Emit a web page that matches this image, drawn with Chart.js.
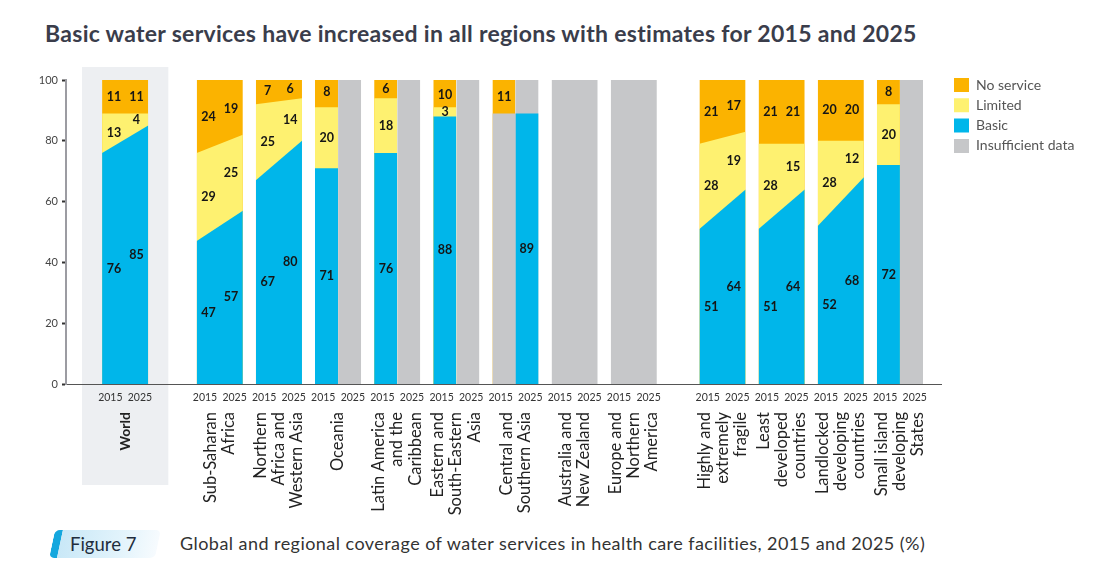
<!DOCTYPE html>
<html>
<head>
<meta charset="utf-8">
<script src="https://cdn.jsdelivr.net/npm/chart.js@4.4.1/dist/chart.umd.min.js"></script>
<style>
  body { margin: 0; background: #fff; font-family: Lato, 'Open Sans', sans-serif; }
  #page { position: relative; width: 1100px; height: 576px; overflow: hidden; }
  h1 { position: absolute; left: 45px; top: 20px; margin: 0; font-size: 23px; letter-spacing: 0.3px; font-weight: 700; color: #3a3d4b; white-space: nowrap; line-height: 1.2; }
  #chartBox { position: absolute; left: 0; top: 50px; width: 1100px; height: 470px; }
  .fig { position: absolute; left: 52px; top: 530px; width: 98px; height: 28px; transform: skewX(-12deg);
         background: linear-gradient(90deg, #c9e8f7, #e6f5fc 70%, #f7fbfe); border-left: 8px solid #14a7de; border-radius: 5px; }
  .fig span { display: block; transform: skewX(12deg); font-size: 18.5px; color: #1f2d3d; padding-left: 10px; line-height: 28px; }
  .caption { position: absolute; left: 180px; top: 532px; font-size: 18px; letter-spacing: 0.45px; color: #333; white-space: nowrap; }
</style>
</head>
<body>
<div id="page">
  <h1>Basic water services have increased in all regions with estimates for 2015 and 2025</h1>
  <div id="chartBox"><canvas id="waterChart"></canvas></div>
  <div class="fig"><span>Figure 7</span></div>
  <div class="caption">Global and regional coverage of water services in health care facilities, 2015 and 2025 (%)</div>
</div>
<script>
// Categories (multi-line labels) and the two survey years
const categories = [
    'World',
    ['Sub-Saharan', 'Africa'],
    ['Northern', 'Africa and', 'Western Asia'],
    'Oceania',
    ['Latin America', 'and the', 'Caribbean'],
    ['Eastern and', 'South-Eastern', 'Asia'],
    ['Central and', 'Southern Asia'],
    ['Australia and', 'New Zealand'],
    ['Europe and', 'Northern', 'America'],
    ['Highly and', 'extremely', 'fragile'],
    ['Least', 'developed', 'countries'],
    ['Landlocked', 'developing', 'countries'],
    ['Small island', 'developing', 'States']
];
const years = ['2015', '2025'];
const yTicks = [0, 20, 40, 60, 80, 100];

// Coverage values (%), null = insufficient data
const basic2015   = [76, 47, 67, 71, 76, 88, null, null, null, 51, 51, 52, 72];
const basic2025   = [85, 57, 80, null, null, null, 89, null, null, 64, 64, 68, null];
const limited2015 = [13, 29, 25, 20, 18, 3, null, null, null, 28, 28, 28, 20];
const limited2025 = [4, 25, 14, null, null, null, null, null, null, 19, 15, 12, null];
const none2015    = [11, 24, 7, 8, 6, 10, 11, null, null, 21, 21, 20, 8];
const none2025    = [11, 19, 6, null, null, null, null, null, null, 17, 21, 20, null];

const colors = { none: '#fbb300', limited: '#fef170', basic: '#00b6ea', gray: '#c6c7c9' };

// group centre on the linear x axis (extra gap after World and before the country groupings)
function groupX(i) {
    return i + (i >= 1 ? 0.6 : 0) + (i >= 9 ? 0.5 : 0);
}
const HALF = 0.39;
const LABEL_LINE = 0.31;   // one line of a rotated category label, in x units

// top of each layer
const sum = (a, b) => a.map((v, i) => (v == null || b[i] == null) ? null : v + b[i]);
const toFull = a => a.map(v => (v == null ? null : 100));
const grayTop = (b, l, n) => b.map((v, i) =>
    (v != null && l[i] != null && n[i] != null) ? null : 100 - (n[i] || 0));

// polygon outline per group: sloped when both years are known, flat half-columns otherwise
function band(v15, v25, sloped) {
    const pts = [];
    categories.forEach((_, i) => {
        const c = groupX(i), a = v15[i], b = v25[i];
        if (a != null && b != null && sloped) {
            pts.push({ x: c - HALF, y: a }, { x: c + HALF, y: b });
        } else {
            if (a != null) pts.push({ x: c - HALF, y: a }, { x: c, y: a });
            if (b != null) pts.push({ x: c, y: b }, { x: c + HALF, y: b });
        }
        pts.push({ x: c + HALF, y: null });
    });
    return pts;
}

function layer(label, color, points, order) {
    return {
        label: label,
        data: points,
        backgroundColor: color,
        borderColor: 'rgba(0,0,0,0)',
        borderWidth: 0,
        pointRadius: 0,
        tension: 0,
        fill: 'origin',
        spanGaps: false,
        order: order
    };
}

// light panel behind the World column
const worldPanel = {
    id: 'worldPanel',
    beforeDraw(chart) {
        const { ctx, chartArea, scales: { x } } = chart;
        const left = x.getPixelForValue(groupX(0) - 0.73);
        const right = x.getPixelForValue(groupX(0) + 0.73);
        ctx.save();
        ctx.fillStyle = '#edeff2';
        ctx.fillRect(left, chartArea.top - 13, right - left, 435 - chartArea.top + 13);
        ctx.restore();
    }
};

// numbers printed inside each segment
const valueLabels = {
    id: 'valueLabels',
    afterDatasetsDraw(chart) {
        const { ctx, scales: { x, y } } = chart;
        ctx.save();
        ctx.font = 'bold 12.5px Lato, sans-serif';
        ctx.fillStyle = '#151515';
        ctx.textAlign = 'center';
        ctx.textBaseline = 'middle';
        const sets = [[basic2015, limited2015, none2015, -1], [basic2025, limited2025, none2025, 1]];
        categories.forEach((_, i) => {
            sets.forEach(([b, l, n, side]) => {
                const px = x.getPixelForValue(groupX(i) + side * 0.19);
                const put = (lo, hi, v) => ctx.fillText(v, px, y.getPixelForValue((lo + hi) / 2));
                if (b[i] != null) put(0, b[i], b[i]);
                if (b[i] != null && l[i] != null) put(b[i], b[i] + l[i], l[i]);
                if (n[i] != null) put(100 - n[i], 100, n[i]);
            });
        });
        ctx.restore();
    }
};

// place the legend block where the report has it
const legendPlace = {
    id: 'legendPlace',
    afterLayout(chart) {
        const lg = chart.legend;
        const pad = lg.options.labels.padding;
        lg.left = 954 - pad;
        lg.right = 1100;
        lg.top = 28 - pad;
        lg.bottom = lg.top + 110;
    }
};

const ctx = document.getElementById('waterChart').getContext('2d');

const yearTicks = [];
categories.forEach((_, i) => { yearTicks.push(groupX(i) - 0.25, groupX(i) + 0.25); });

// rotated multi-line labels start at the tick, so shift them to sit centred on the group
const catTicks = categories.map((label, i) => {
    const lines = Array.isArray(label) ? label.length : 1;
    return groupX(i) - (lines - 1) * LABEL_LINE / 2;
});

const config = {
    type: 'line',
    data: {
        datasets: [
            layer('No service', colors.none, band(toFull(none2015), toFull(none2025), true), 4),
            layer('Limited', colors.limited, band(sum(basic2015, limited2015), sum(basic2025, limited2025), true), 2),
            layer('Basic', colors.basic, band(basic2015, basic2025, true), 1),
            layer('Insufficient data', colors.gray,
                band(grayTop(basic2015, limited2015, none2015), grayTop(basic2025, limited2025, none2025), false), 3)
        ]
    },
    options: {
        responsive: true,
        maintainAspectRatio: false,
        animation: false,
        events: [],
        layout: { padding: { top: 30, right: 22, left: 0, bottom: 0 } },
        scales: {
            x: {
                type: 'linear',
                min: -1,
                max: 13.8,
                position: 'bottom',
                border: { display: true, color: '#555', width: 1 },
                grid: { display: false, drawTicks: false },
                afterBuildTicks: s => { s.ticks = yearTicks.map(v => ({ value: v })); },
                afterFit: s => { s.height = 22; },
                ticks: {
                    autoSkip: false,
                    maxRotation: 0,
                    padding: 7,
                    color: '#333',
                    font: { size: 10.5, family: 'Lato' },
                    callback: (v, i) => years[i % 2]
                }
            },
            xCat: {
                type: 'linear',
                min: -1,
                max: 13.8,
                position: 'bottom',
                border: { display: false },
                grid: { display: false, drawTicks: false },
                afterBuildTicks: s => { s.ticks = catTicks.map(v => ({ value: v })); },
                afterFit: s => { s.height = 114; },
                ticks: {
                    autoSkip: false,
                    minRotation: 90,
                    maxRotation: 90,
                    padding: 6,
                    color: '#222',
                    font: c => (c.index === 0
                        ? { size: 14, family: 'Lato', lineHeight: 1.1, weight: 'bold' }
                        : { size: 16.5, family: 'Lato', lineHeight: 1.1, weight: 'normal' }),
                    callback: (v, i) => categories[i]
                }
            },
            y: {
                min: 0,
                max: 100,
                border: { display: true, color: '#9c9ca2', width: 2 },
                grid: { drawOnChartArea: false, drawTicks: true, tickLength: 4, tickColor: '#333', tickWidth: 2 },
                afterBuildTicks: s => { s.ticks = yTicks.map(v => ({ value: v })); },
                afterFit: s => { s.width = 66; },
                ticks: { padding: 4, color: '#444', font: { size: 11, family: 'Lato' } }
            }
        },
        plugins: {
            legend: {
                position: 'right',
                align: 'start',
                labels: {
                    boxWidth: 15,
                    boxHeight: 14,
                    padding: 6.3,
                    color: '#555',
                    font: { size: 14, family: 'Lato' },
                    sort: (a, b) => a.datasetIndex - b.datasetIndex
                }
            },
            tooltip: { enabled: false }
        }
    },
    plugins: [worldPanel, valueLabels, legendPlace]
};

let waterChart = new Chart(ctx, config);
</script>
</body>
</html>
